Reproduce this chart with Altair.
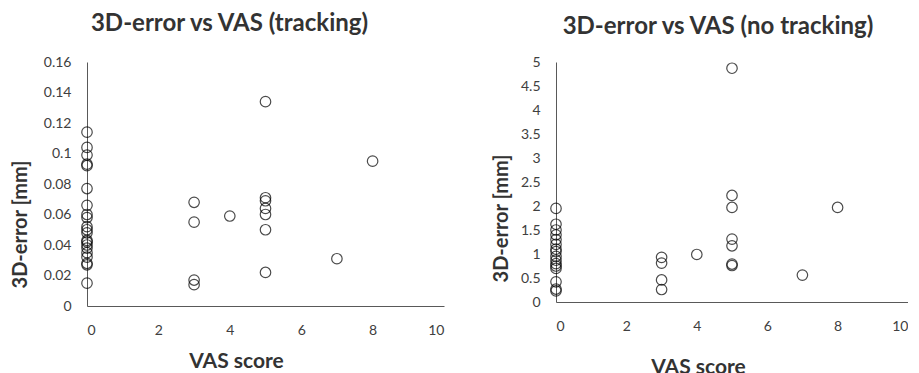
import altair as alt
import pandas as pd

# Left panel: tracking
vas_tr = [0]*21 + [3, 3, 3, 3, 4, 5, 5, 5, 5, 5, 5, 5, 7, 8]
err_tr = [0.114, 0.104, 0.099, 0.093, 0.092, 0.077, 0.066, 0.060, 0.058, 0.052,
          0.050, 0.048, 0.043, 0.042, 0.040, 0.038, 0.035, 0.032, 0.028, 0.027, 0.015,
          0.068, 0.055, 0.017, 0.014, 0.059, 0.134, 0.071, 0.069, 0.064, 0.060, 0.050,
          0.022, 0.031, 0.095]

# Right panel: no tracking
vas_nt = [0]*16 + [3, 3, 3, 3, 4, 5, 5, 5, 5, 5, 5, 5, 7, 8]
err_nt = [1.95, 1.62, 1.50, 1.40, 1.30, 1.20, 1.10, 1.05, 0.95, 0.87, 0.80, 0.75,
          0.70, 0.42, 0.27, 0.23,
          0.93, 0.81, 0.46, 0.26, 0.99, 4.87, 2.22, 1.97, 1.31, 1.17, 0.79, 0.76,
          0.56, 1.97]

x_ticks = [0, 2, 4, 6, 8, 10]
y_ticks_tr = [0, 0.02, 0.04, 0.06, 0.08, 0.1, 0.12, 0.14, 0.16]
y_ticks_nt = [0, 0.5, 1, 1.5, 2, 2.5, 3, 3.5, 4, 4.5, 5]

FONT = "Lato"
AX = "#595959"
LBL = "#404040"


def panel(vas, err, title, ymax, yvals, w, h, ytx, yty, xtx, xty, tdx, toff):
    df = pd.DataFrame({"vas": vas, "err": err})
    return alt.Chart(df).mark_point(
        shape="circle", filled=False, color="black", size=110, strokeWidth=1.2
    ).encode(
        x=alt.X("vas:Q", scale=alt.Scale(domain=[0, 10], nice=False, zero=True),
                axis=alt.Axis(title="VAS score", values=x_ticks, labelOverlap=False,
                              grid=False, ticks=False, domainColor=AX, domainWidth=1,
                              labelColor=LBL, labelFont=FONT, labelFontSize=14,
                              labelPadding=17, titleFont=FONT, titleFontSize=21,
                              titleFontWeight="bold", titleColor="#333333",
                              titleX=xtx, titleY=xty, titleBaseline="middle")),
        y=alt.Y("err:Q", scale=alt.Scale(domain=[0, ymax], nice=False),
                axis=alt.Axis(title="3D-error [mm]", grid=False, ticks=False,
                              values=yvals, format="~g", labelOverlap=False,
                              domainColor=AX, domainWidth=1, labelColor=LBL,
                              labelFont=FONT, labelFontSize=14, labelPadding=16,
                              titleFont=FONT, titleFontSize=20, titleFontWeight="bold",
                              titleColor="#333333", titleX=ytx, titleY=yty,
                              titleBaseline="middle", titleAngle=270)),
    ).properties(
        width=w, height=h,
        title=alt.TitleParams(title, font=FONT, fontSize=24, fontWeight="bold",
                              color="#333333", anchor="middle", dx=tdx, offset=toff,
                              frame="group"),
    )


left = panel(vas_tr, err_tr, "3D-error vs VAS (tracking)", 0.16, y_ticks_tr,
             357, 244, -67, 162, 149, 55, -36, 19)
right = panel(vas_nt, err_nt, "3D-error vs VAS (no tracking)", 5, y_ticks_nt,
              352, 240, -55, 156, 142, 65, -14, 16)

chart = alt.hconcat(left, right, spacing=112, bounds="flush").configure_view(
    stroke=None
).properties(padding={"left": 2, "top": 4, "right": 0, "bottom": 10})

chart.save("out.html", embed_options={"renderer": "svg", "actions": False})
